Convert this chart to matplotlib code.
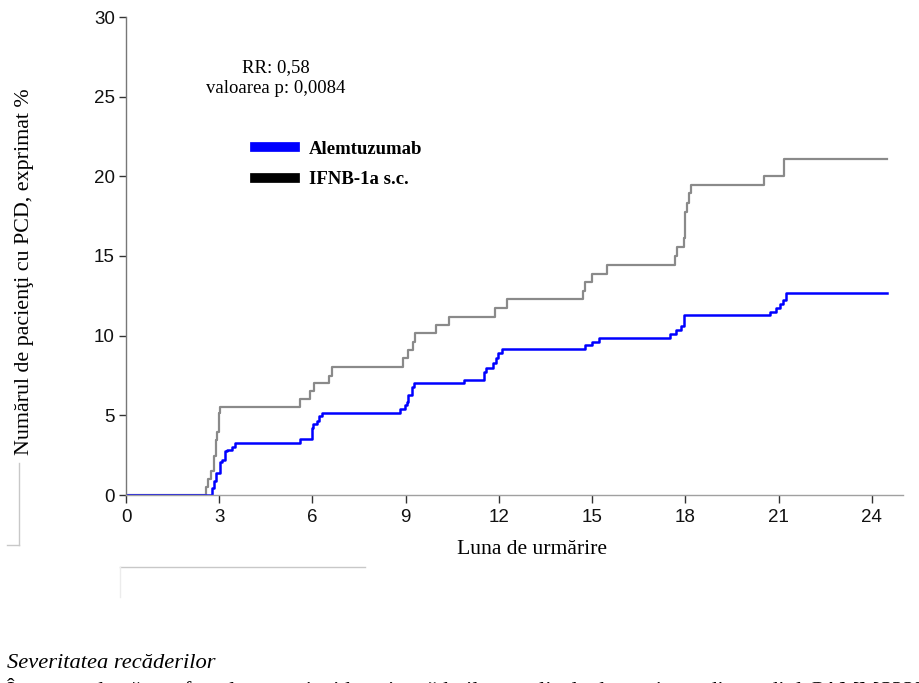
import matplotlib
matplotlib.use("Agg")
import matplotlib.pyplot as plt
from matplotlib.lines import Line2D

# ---- data ----
x_ticks = [0, 3, 6, 9, 12, 15, 18, 21, 24]
y_ticks = [0, 5, 10, 15, 20, 25, 30]

t_ifn = [0, 2.57, 2.65, 2.73, 2.83, 2.89, 2.92, 2.98, 3.02, 5.60, 5.92, 6.05, 6.52, 6.62,
         8.90, 9.08, 9.22, 9.31, 9.97, 10.40, 11.87, 12.25, 14.71, 14.76, 14.98, 15.47,
         17.65, 17.74, 17.95, 17.98, 18.04, 18.10, 18.19, 20.53, 21.17, 24.48]
v_ifn = [0, 0.48, 0.98, 1.5, 2.45, 3.45, 3.97, 5.13, 5.5, 6.0, 6.5, 7.0, 7.5, 8.05,
         8.58, 9.1, 9.62, 10.15, 10.69, 11.19, 11.74, 12.28, 12.83, 13.35, 13.87, 14.44,
         15.0, 15.55, 16.11, 17.78, 18.35, 18.94, 19.46, 20.03, 21.09, 21.09]

t_alem = [0, 2.76, 2.82, 2.90, 3.02, 3.09, 3.20, 3.26, 3.42, 3.50, 5.60, 5.97, 6.03, 6.14,
          6.22, 6.30, 8.80, 8.98, 9.03, 9.08, 9.21, 9.28, 10.88, 11.52, 11.57, 11.82,
          11.90, 11.98, 12.09, 14.77, 14.98, 15.23, 17.50, 17.70, 17.85, 17.95, 20.72,
          20.91, 21.04, 21.13, 21.23, 24.48]
v_alem = [0, 0.42, 0.9, 1.4, 2.09, 2.2, 2.78, 2.85, 3.03, 3.28, 3.49, 4.18, 4.44, 4.66,
          4.96, 5.13, 5.38, 5.65, 5.86, 6.28, 6.8, 7.01, 7.22, 7.74, 7.95, 8.27,
          8.58, 8.9, 9.15, 9.4, 9.62, 9.87, 10.1, 10.36, 10.61, 11.3, 11.51,
          11.76, 11.99, 12.24, 12.7, 12.7]

series_names = ["Alemtuzumab", "IFNB-1a s.c."]
y_label = "Numărul de pacienţi cu PCD, exprimat %"
x_label = "Luna de urmărire"
stats_text = "RR: 0,58\nvaloarea p: 0,0084"
section_title = "Severitatea recăderilor"
cut_line = ("În concordanţă cu efectul asupra incidenţei recăderilor, analizele de susţinere "
            "din studiul CAMMS323 au arătat că alemtuzumab a redus")

W, H = 919, 683
fig = plt.figure(figsize=(W / 100, H / 100), dpi=100)
ax = fig.add_axes([126 / W, 1 - 495 / H, (903 - 126) / W, (495 - 17) / H])

ax.step(t_ifn, v_ifn, where="post", color="#8a8a8a", lw=1.6)
ax.step(t_alem, v_alem, where="post", color="#0000ff", lw=1.8)

ax.set_xlim(0, 25)
ax.set_ylim(0, 30)
ax.set_xticks(x_ticks)
ax.set_yticks(y_ticks)
ax.spines["top"].set_visible(False)
ax.spines["right"].set_visible(False)
ax.spines["left"].set_color("#777777")
ax.spines["bottom"].set_color("#a0a0a0")
ax.spines["left"].set_linewidth(1.0)
ax.spines["bottom"].set_linewidth(1.0)
ax.tick_params(axis="both", direction="out", color="#333333", width=1.0,
               labelsize=13.5, labelcolor="#111111")
ax.tick_params(axis="y", length=5, pad=3)
ax.tick_params(axis="x", length=6, pad=4)
for lab in ax.get_xticklabels() + ax.get_yticklabels():
    lab.set_fontfamily("Liberation Sans")

fig.text(25 / W, 1 - 272 / H, y_label, rotation=90, ha="center", va="center",
         family="Liberation Serif", fontsize=15.8)
fig.text(532 / W, 1 - 550 / H, x_label, ha="center", va="center",
         family="Liberation Serif", fontsize=15.6)
fig.text(276 / W, 1 - 78 / H, stats_text, ha="center", va="center",
         family="Liberation Serif", fontsize=13.5, linespacing=1.35)

handles = [Line2D([], [], color="#0000ff", lw=7),
           Line2D([], [], color="#000000", lw=7)]
fig.legend(handles, series_names, loc="upper left",
           bbox_to_anchor=(246 / W, 1 - 131 / H), frameon=False, borderpad=0,
           handlelength=2.1, handletextpad=0.75, labelspacing=0.72,
           prop={"family": "Liberation Serif", "weight": "bold", "size": 13.5})

# document decorations around the figure
fig.add_artist(Line2D([19 / W, 19 / W], [1 - 463 / H, 1 - 545 / H], color="#c8c8c8", lw=1))
fig.add_artist(Line2D([7 / W, 19 / W], [1 - 545 / H, 1 - 545 / H], color="#c8c8c8", lw=1))
fig.add_artist(Line2D([120 / W, 365 / W], [1 - 567 / H, 1 - 567 / H], color="#c8c8c8", lw=1))
fig.add_artist(Line2D([120 / W, 120 / W], [1 - 567 / H, 1 - 597 / H], color="#ececec", lw=1))

fig.text(7 / W, 1 - 668 / H, section_title, ha="left", va="baseline",
         family="Liberation Serif", style="italic", fontsize=16.2)
fig.text(7 / W, 1 - 696 / H, cut_line, ha="left", va="baseline",
         family="Liberation Serif", fontsize=16.2)

fig.savefig("out.png", dpi=100)
